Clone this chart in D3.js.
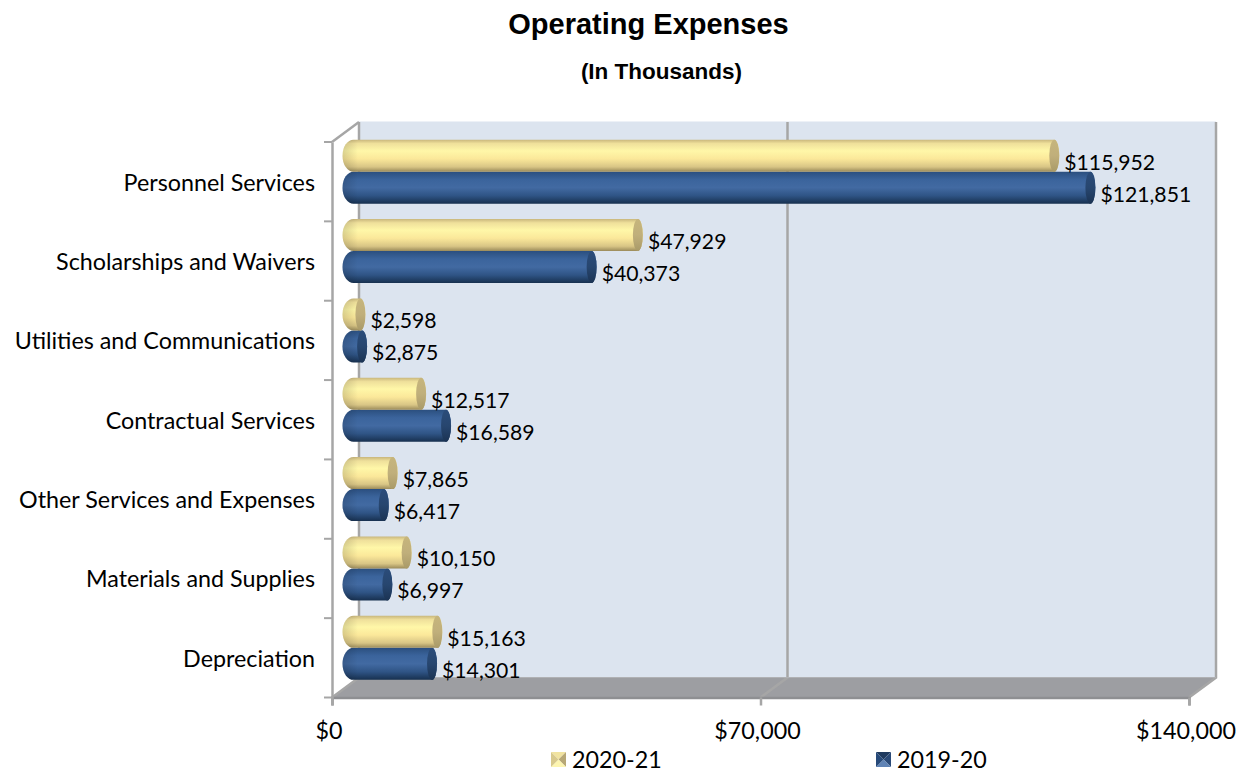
<!DOCTYPE html>
<html>
<head>
<meta charset="utf-8">
<script src="https://cdn.jsdelivr.net/npm/d3@7/dist/d3.min.js"></script>
<style>
  html, body { margin: 0; background: #fff; }
  text { fill: #000; }
  .lbl { font-family: Lato, "Open Sans", sans-serif; font-size: 23.3px; }
  .val { font-family: Lato, "Open Sans", sans-serif; font-size: 21.2px; }
  .title { font-family: "Liberation Sans", Arial, sans-serif; font-weight: bold; text-anchor: middle; }
</style>
</head>
<body>
<svg id="vis-svg"></svg>
<script>
// values
var categories = ["Personnel Services", "Scholarships and Waivers", "Utilities and Communications",
  "Contractual Services", "Other Services and Expenses", "Materials and Supplies", "Depreciation"];
var seriesNames = ["2020-21", "2019-20"];
var values2021 = [115952, 47929, 2598, 12517, 7865, 10150, 15163];
var values1920 = [121851, 40373, 2875, 16589, 6417, 6997, 14301];
var xTicks = [0, 70000, 140000];

var width = 1240, height = 772;
var front = {left: 332, right: 1189, top: 142, bottom: 697.5};
var depth = {x: 27, y: -20};   // shift from the front plane to the back wall
var grey = "#a6a6a6";

var svg = d3.select("#vis-svg").attr("width", width).attr("height", height);
var defs = svg.append("defs");

function vGradient(id, stops) {
  var g = defs.append("linearGradient").attr("id", id)
    .attr("x1", 0).attr("y1", 0).attr("x2", 0).attr("y2", 1);
  stops.forEach(function(s) {
    g.append("stop").attr("offset", s[0]).attr("stop-color", s[1]);
  });
}
vGradient("yellowBar", [[0, "#c9b77c"], [0.12, "#efe09b"], [0.35, "#fff7a8"], [0.6, "#fbe89a"], [0.85, "#d8c585"], [1, "#9a8a5a"]]);
vGradient("blueBar", [[0, "#2b4f7f"], [0.25, "#3b649c"], [0.5, "#426aa2"], [0.75, "#2f5485"], [1, "#17304f"]]);
vGradient("yellowCap", [[0, "#c6b57c"], [0.5, "#c0af7b"], [1, "#a99a68"]]);
vGradient("blueCap", [[0, "#2b4c7a"], [0.5, "#27466f"], [1, "#1b3353"]]);

var leftShade = defs.append("linearGradient").attr("id", "leftShade")
  .attr("gradientUnits", "userSpaceOnUse").attr("x1", 343).attr("x2", 358).attr("y1", 0).attr("y2", 0);
leftShade.append("stop").attr("offset", 0).attr("stop-color", "#000").attr("stop-opacity", 0.14);
leftShade.append("stop").attr("offset", 1).attr("stop-color", "#000").attr("stop-opacity", 0);

// scales
var xScale = d3.scaleLinear().domain([0, 140000]).range([front.left, front.right]);
var yScale = d3.scaleBand().domain(categories).range([front.top, front.bottom]);
var innerScale = d3.scaleBand().domain(seriesNames).range([-32, 32]);
var barShiftX = 12.5, barShiftY = -10;
var capRx = 5, leftRx = 11;

// back wall and floor
var backTop = front.top + depth.y, backBottom = front.bottom + depth.y;
var backLeft = front.left + depth.x, backRight = front.right + depth.x;
var line = d3.line();

svg.append("rect").attr("x", backLeft).attr("y", backTop - 0.5)
  .attr("width", backRight - backLeft).attr("height", backBottom - backTop)
  .attr("fill", "#dce4ef");
svg.append("path")
  .attr("d", line([[front.left, front.bottom], [front.right, front.bottom], [backRight, backBottom], [backLeft, backBottom]]) + "Z")
  .attr("fill", "#9d9ea2");

// gridlines on the wall and across the floor
xTicks.forEach(function(t) {
  var x = xScale(t);
  svg.append("path")
    .attr("d", line([[x, front.bottom], [x + depth.x, backBottom], [x + depth.x, backTop]]))
    .attr("fill", "none").attr("stroke", grey).attr("stroke-width", 2.5);
});
svg.append("path")
  .attr("d", line([[backLeft, backTop], [front.left, front.top]]))
  .attr("fill", "none").attr("stroke", grey).attr("stroke-width", 2.5);
svg.append("line").attr("x1", backLeft).attr("x2", backRight)
  .attr("y1", backBottom).attr("y2", backBottom).attr("stroke", "#b0b1b4").attr("stroke-width", 1);

// axes
var xAxis = d3.axisBottom(xScale).tickValues(xTicks).tickSize(8).tickPadding(17)
  .tickFormat(function(d) { return "$" + d3.format(",")(d); });
var gx = svg.append("g").attr("transform", "translate(0," + front.bottom + ")").call(xAxis);
gx.selectAll("text").attr("class", "lbl").attr("fill", "#000").attr("dx", -3.5);

var yAxis = d3.axisLeft(yScale).tickSize(0).tickPadding(17);
var gy = svg.append("g").attr("transform", "translate(" + front.left + ",0)").call(yAxis);
gy.selectAll("text").attr("class", "lbl").attr("fill", "#000").attr("dy", "0.38em");

// tick marks sit on the band edges, not the band centres
var yEdges = categories.map(function(c) { return yScale(c); }).concat([front.bottom]);
gy.selectAll(".edge").data(yEdges).enter().append("line").attr("class", "edge")
  .attr("x1", -8).attr("x2", 0).attr("y1", function(d) { return d; }).attr("y2", function(d) { return d; })
  .attr("stroke", grey).attr("stroke-width", 2);

[gx, gy].forEach(function(g) {
  g.selectAll(".domain, .tick line").attr("stroke", grey).attr("stroke-width", 2.5);
});
gx.select(".domain").attr("stroke", "#8e8f92");

// cylinders
var series = [
  {name: seriesNames[1], values: values1920, body: "url(#blueBar)", cap: "url(#blueCap)"},
  {name: seriesNames[0], values: values2021, body: "url(#yellowBar)", cap: "url(#yellowCap)"}
];
var barH = innerScale.bandwidth();

function barBody(v) {
  var xl = xScale(0) + barShiftX - 2 + leftRx, xr = xScale(v) + barShiftX;
  var ry = barH / 2;
  var p = "M" + xl + ",0L" + xr + ",0";
  p += "A" + capRx + "," + ry + " 0 0 1 " + xr + "," + barH;
  p += "L" + xl + "," + barH;
  p += "A" + leftRx + "," + ry + " 0 0 1 " + xl + ",0Z";
  return p;
}

series.forEach(function(s) {
  var groups = svg.append("g").selectAll("g")
    .data(s.values).enter().append("g")
    .attr("transform", function(d, i) {
      var y = yScale(categories[i]) + yScale.bandwidth() / 2 + barShiftY + innerScale(s.name);
      return "translate(0," + y + ")";
    });
  groups.append("path").attr("d", barBody).attr("fill", s.body);
  groups.append("path").attr("d", barBody).attr("fill", "url(#leftShade)");
  groups.append("ellipse")
    .attr("cx", function(d) { return xScale(d) + barShiftX; })
    .attr("cy", barH / 2).attr("rx", capRx).attr("ry", barH / 2)
    .attr("fill", s.cap);
});

// data labels go on top of all the bars
series.forEach(function(s) {
  svg.append("g").selectAll("text")
    .data(s.values).enter().append("text")
    .attr("class", "val")
    .attr("x", function(d) { return xScale(d) + barShiftX + capRx + 5; })
    .attr("y", function(d, i) {
      return yScale(categories[i]) + yScale.bandwidth() / 2 + barShiftY + innerScale(s.name) + barH / 2 + 6.5;
    })
    .attr("dy", "0.35em")
    .text(function(d) { return "$" + d3.format(",")(d); });
});

// titles
svg.append("text").attr("class", "title").attr("x", 648.5).attr("y", 34).attr("font-size", 29).text("Operating Expenses");
svg.append("text").attr("class", "title").attr("x", 661.5).attr("y", 79).attr("font-size", 22.5).text("(In Thousands)");

// legend
function swatch(g, size, colors) {
  var c = size / 2;
  var corners = [[0, 0], [size, 0], [size, size], [0, size]];
  corners.forEach(function(a, i) {
    var b = corners[(i + 1) % 4];
    g.append("path").attr("d", line([a, b, [c, c]]) + "Z").attr("fill", colors[i]);
  });
}
var legendItems = [
  {name: seriesNames[0], x: 551, colors: ["#f1e3a0", "#b8a876", "#fdf5b0", "#d8c98c"]},
  {name: seriesNames[1], x: 876, colors: ["#1f3a5f", "#2a4a78", "#5f83b5", "#274a7a"]}
];
legendItems.forEach(function(item) {
  var g = svg.append("g").attr("transform", "translate(" + item.x + ",752)");
  swatch(g, 15, item.colors);
  g.append("text").attr("class", "lbl").attr("x", 21).attr("y", 16).text(item.name);
});
</script>
</body>
</html>
